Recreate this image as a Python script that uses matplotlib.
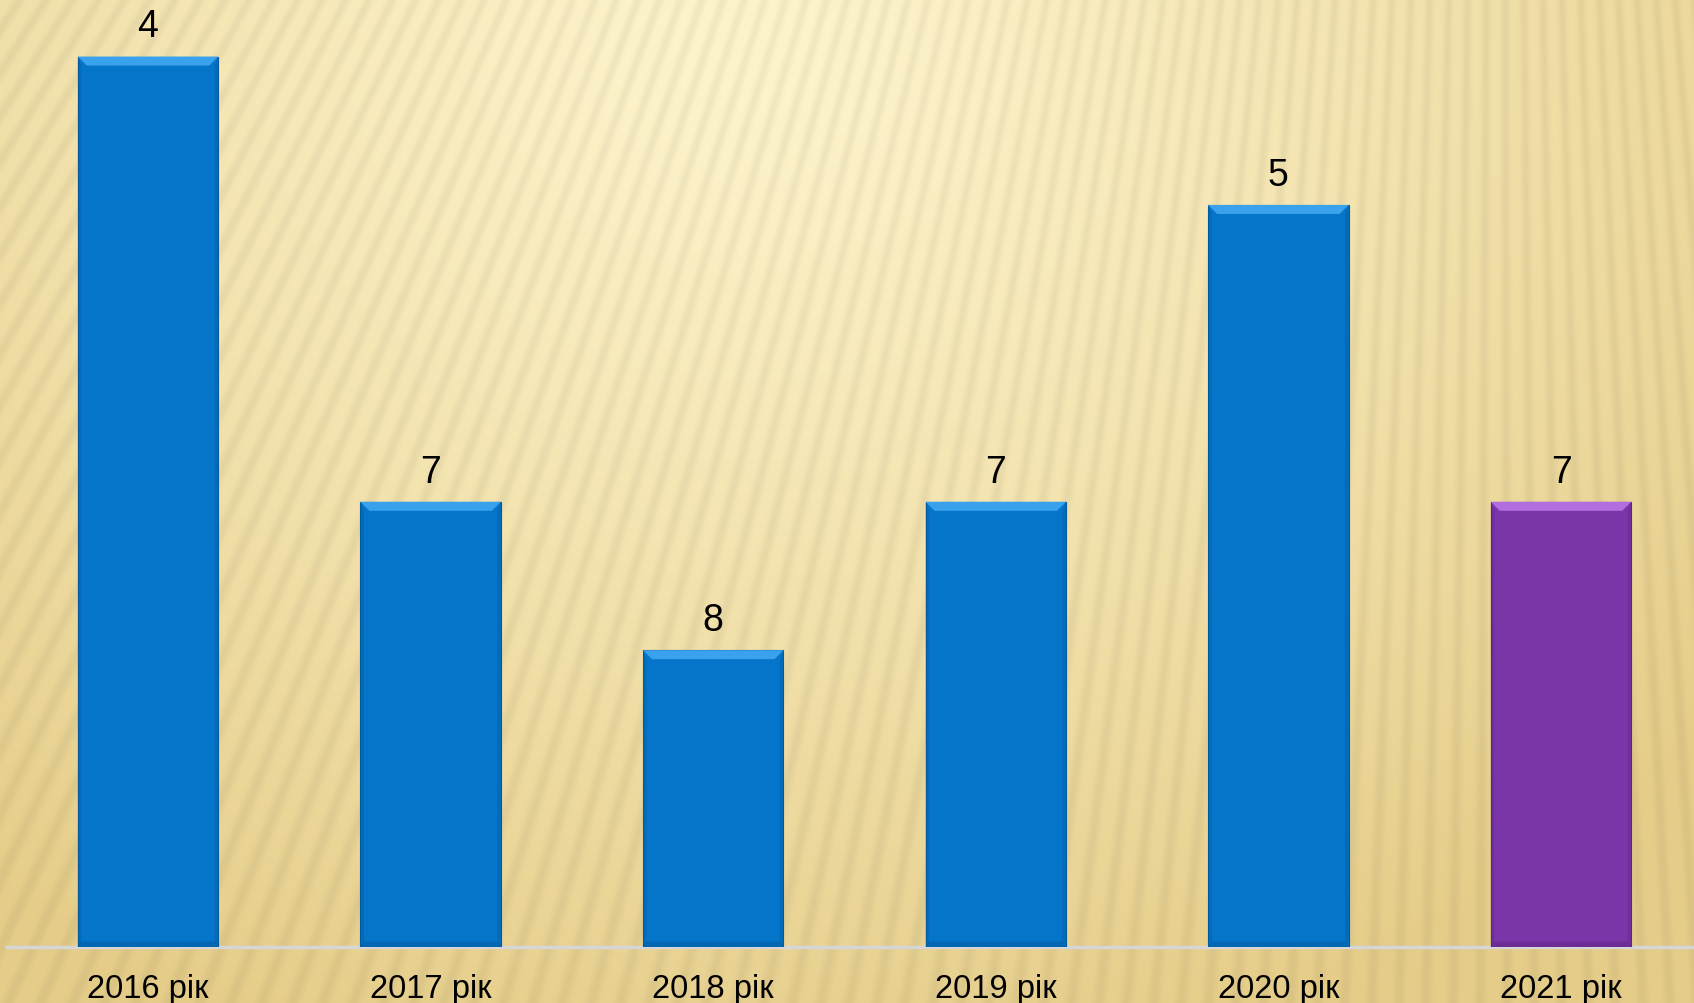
import numpy as np
import matplotlib
matplotlib.use("Agg")
import matplotlib.pyplot as plt
from matplotlib.patches import Polygon

categories = ["2016 рік", "2017 рік", "2018 рік", "2019 рік", "2020 рік", "2021 рік"]
values = [4, 7, 8, 7, 5, 7]
bar_colors = ["#0575C9", "#0575C9", "#0575C9", "#0575C9", "#0575C9", "#7A35A8"]
light_colors = ["#3AA2EC", "#3AA2EC", "#3AA2EC", "#3AA2EC", "#3AA2EC", "#B06EE0"]
dark_colors = ["#035A9E", "#035A9E", "#035A9E", "#035A9E", "#035A9E", "#5E2684"]
baseline_value = 10
top_value = 3.612

W, H = 1694, 1004
DPI = 100
plt.rcParams['font.family'] = ['Liberation Sans', 'DejaVu Sans']

fig = plt.figure(figsize=(W / DPI, H / DPI), dpi=DPI)

# ---- background: golden gradient with soft radiating stripes
yy, xx = np.mgrid[0:H, 0:W].astype(float)
cx, cy = 1500.0, -2300.0
ang = np.arctan2(xx - cx, yy - cy)
stripes = 0.5 + 0.5 * np.sin(ang / 0.0082 * 2 * np.pi)
stripes = stripes ** 2
d = np.sqrt(((xx - 750) / 1250) ** 2 + ((yy - 40) / 1050) ** 2)
t = np.clip(d, 0, 1) ** 1.2
light = np.array([254, 244, 204]) / 255.0
dark = np.array([230, 206, 138]) / 255.0
base = light[None, None, :] * (1 - t[..., None]) + dark[None, None, :] * t[..., None]
img = base * (1 - 0.05 * stripes[..., None])
bg = fig.add_axes([0, 0, 1, 1])
bg.imshow(np.clip(img, 0, 1), extent=[0, W, H, 0], aspect='auto', interpolation='bilinear')
bg.set_axis_off()
bg.set_zorder(0)

# ---- main axes
spacing = 282.6
left_px = 148.0 - spacing / 2
base_px = 948.0
ax = fig.add_axes([left_px / W, (H - base_px) / H, len(categories) * spacing / W, base_px / H])
ax.set_zorder(1)
ax.patch.set_alpha(0)
x = np.arange(len(categories))
ax.set_xlim(-0.5, len(categories) - 0.5)
ax.set_ylim(baseline_value, top_value)

heights = [v - baseline_value for v in values]
bw = 0.497
bars = ax.bar(x, heights, bottom=baseline_value, width=bw, color=bar_colors,
              edgecolor=dark_colors, linewidth=0.8, zorder=2)

# bevel effect derived from bar geometry
px_x = 1.0 / spacing
px_y = (baseline_value - top_value) / base_px
bev = 9
for i, b in enumerate(bars):
    x0 = b.get_x(); x1 = x0 + b.get_width()
    ytop = values[i]; ybot = baseline_value
    dx = bev * px_x; dy = bev * px_y
    ax.add_patch(Polygon([(x0, ytop), (x1, ytop), (x1 - dx, ytop + dy), (x0 + dx, ytop + dy)],
                         closed=True, facecolor=light_colors[i], edgecolor='none', zorder=3))
    ax.add_patch(Polygon([(x0, ytop), (x0 + dx * 0.4, ytop + dy), (x0 + dx * 0.4, ybot - dy * 0.4), (x0, ybot)],
                         closed=True, facecolor=dark_colors[i], edgecolor='none', alpha=0.35, zorder=3))
    ax.add_patch(Polygon([(x1, ytop), (x1 - dx * 0.4, ytop + dy), (x1 - dx * 0.4, ybot - dy * 0.4), (x1, ybot)],
                         closed=True, facecolor=dark_colors[i], edgecolor='none', alpha=0.35, zorder=3))
    ax.add_patch(Polygon([(x0, ybot), (x1, ybot), (x1 - dx * 0.4, ybot - dy * 0.6), (x0 + dx * 0.4, ybot - dy * 0.6)],
                         closed=True, facecolor=dark_colors[i], edgecolor='none', alpha=0.5, zorder=3))
    ax.annotate(str(values[i]), (b.get_x() + b.get_width() / 2, ytop), xytext=(0, 14.5),
                textcoords='offset points', ha='center', va='baseline', fontsize=27, color='black', zorder=4)

for s in ['top', 'left', 'right']:
    ax.spines[s].set_visible(False)
ax.spines['bottom'].set_color('#D6D6D6')
ax.spines['bottom'].set_linewidth(2.5)
ax.spines['bottom'].set_zorder(1)
ax.set_yticks([])
ax.set_xticks(x)
ax.set_xticklabels(categories, fontsize=23.5, color='black')
ax.tick_params(axis='x', length=0, pad=18.5)

fig.savefig("out.png", dpi=DPI)
